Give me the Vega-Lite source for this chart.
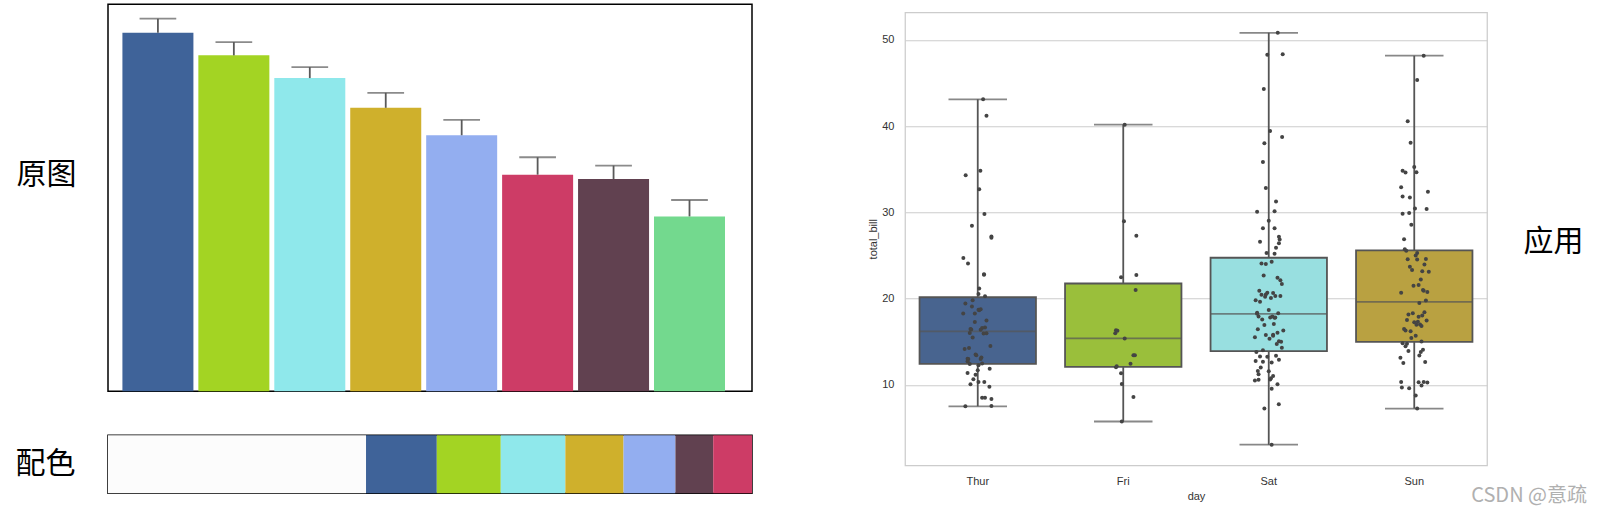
{
 "$schema": "https://vega.github.io/schema/vega-lite/v6.json",
 "background": "white",
 "padding": {"left": 14, "top": 3.25, "right": 0, "bottom": 0},
 "config": {"font": "Liberation Sans"},
 "datasets": {
  "bars": [
   {"k":"b1","v":92.66,"e":96.28},{"k":"b2","v":86.79,"e":90.23},{"k":"b3","v":80.92,"e":83.76},{"k":"b4","v":73.24,"e":77.11},
   {"k":"b5","v":66.15,"e":70.13},{"k":"b6","v":55.96,"e":60.46},{"k":"b7","v":54.85,"e":58.31},{"k":"b8","v":45.18,"e":49.42}
  ],
  "pal": [
   {"k":"bg","s":0,"e":258.1,"lab":"配色"},{"k":"p1","s":258.1,"e":328.9,"lab":"配色"},{"k":"p2","s":328.9,"e":392.9,"lab":"配色"},
   {"k":"p3","s":392.9,"e":457.5,"lab":"配色"},{"k":"p4","s":457.5,"e":515.7,"lab":"配色"},{"k":"p5","s":515.7,"e":567.6,"lab":"配色"},
   {"k":"p6","s":567.6,"e":605.4,"lab":"配色"},{"k":"p7","s":605.4,"e":644.2,"lab":"配色"}
  ],
  "box": [
   {"day":"Thur","lo":7.51,"q1":12.4425,"med":16.2,"q3":20.155,"hi":43.11},
   {"day":"Fri","lo":5.75,"q1":12.095,"med":15.38,"q3":21.75,"hi":40.17},
   {"day":"Sat","lo":3.07,"q1":13.905,"med":18.24,"q3":24.74,"hi":50.81},
   {"day":"Sun","lo":7.25,"q1":14.9875,"med":19.63,"q3":25.5975,"hi":48.17}
  ],
  "pts": [
   {"d":"Thur","b":27.20,"j":0.094},{"d":"Thur","b":22.76,"j":0.043},{"d":"Thur","b":17.29,"j":-0.02},{"d":"Thur","b":19.44,"j":-0.085},
   {"d":"Thur","b":16.66,"j":0.05},{"d":"Thur","b":10.07,"j":-0.05},{"d":"Thur","b":32.68,"j":0.01},{"d":"Thur","b":15.98,"j":0.06},
   {"d":"Thur","b":34.83,"j":0.018},{"d":"Thur","b":13.03,"j":-0.07},{"d":"Thur","b":18.28,"j":-0.1},{"d":"Thur","b":24.71,"j":-0.099},
   {"d":"Thur","b":21.16,"j":0.01},{"d":"Thur","b":10.65,"j":-0.03},{"d":"Thur","b":12.43,"j":-0.055},{"d":"Thur","b":24.08,"j":-0.067},
   {"d":"Thur","b":11.69,"j":0.0},{"d":"Thur","b":13.42,"j":-0.01},{"d":"Thur","b":14.26,"j":-0.06},{"d":"Thur","b":15.95,"j":0.04},
   {"d":"Thur","b":12.48,"j":0.03},{"d":"Thur","b":29.80,"j":0.046},{"d":"Thur","b":8.52,"j":0.03},{"d":"Thur","b":14.52,"j":0.087},
   {"d":"Thur","b":11.38,"j":-0.07},{"d":"Thur","b":22.82,"j":0.043},{"d":"Thur","b":19.08,"j":-0.04},{"d":"Thur","b":20.27,"j":0.05},
   {"d":"Thur","b":11.17,"j":-0.015},{"d":"Thur","b":12.26,"j":0.005},{"d":"Thur","b":18.26,"j":-0.02},{"d":"Thur","b":8.51,"j":0.05},
   {"d":"Thur","b":10.33,"j":0.005},{"d":"Thur","b":14.15,"j":-0.09},{"d":"Thur","b":16.00,"j":-0.055},{"d":"Thur","b":13.16,"j":0.025},
   {"d":"Thur","b":17.47,"j":0.06},{"d":"Thur","b":34.30,"j":-0.083},{"d":"Thur","b":41.19,"j":0.06},{"d":"Thur","b":27.05,"j":0.094},
   {"d":"Thur","b":16.43,"j":-0.045},{"d":"Thur","b":8.35,"j":0.094},{"d":"Thur","b":18.64,"j":0.01},{"d":"Thur","b":11.87,"j":0.082},
   {"d":"Thur","b":9.78,"j":0.08},{"d":"Thur","b":7.51,"j":-0.085},{"d":"Thur","b":19.81,"j":-0.035},{"d":"Thur","b":28.44,"j":-0.04},
   {"d":"Thur","b":15.48,"j":-0.035},{"d":"Thur","b":16.58,"j":0.03},{"d":"Thur","b":7.56,"j":0.094},{"d":"Thur","b":10.34,"j":0.045},
   {"d":"Thur","b":43.11,"j":0.037},{"d":"Thur","b":13.00,"j":-0.065},{"d":"Thur","b":13.51,"j":-0.015},{"d":"Thur","b":18.71,"j":0.005},
   {"d":"Thur","b":12.74,"j":-0.07},{"d":"Thur","b":13.00,"j":0.02},{"d":"Thur","b":16.40,"j":0.02},{"d":"Thur","b":20.53,"j":0.005},
   {"d":"Thur","b":16.47,"j":-0.05},{"d":"Thur","b":18.78,"j":0.02},
   {"d":"Fri","b":28.97,"j":0.005},{"d":"Fri","b":22.49,"j":-0.015},{"d":"Fri","b":5.75,"j":-0.01},{"d":"Fri","b":16.32,"j":-0.05},
   {"d":"Fri","b":22.75,"j":0.09},{"d":"Fri","b":40.17,"j":0.01},{"d":"Fri","b":27.28,"j":0.09},{"d":"Fri","b":12.03,"j":-0.05},
   {"d":"Fri","b":21.01,"j":0.085},{"d":"Fri","b":12.46,"j":0.05},{"d":"Fri","b":11.35,"j":-0.015},{"d":"Fri","b":15.38,"j":0.01},
   {"d":"Fri","b":12.16,"j":-0.045},{"d":"Fri","b":13.42,"j":0.07},{"d":"Fri","b":8.58,"j":0.07},{"d":"Fri","b":15.98,"j":-0.055},
   {"d":"Fri","b":13.42,"j":0.08},{"d":"Fri","b":16.27,"j":-0.04},{"d":"Fri","b":10.09,"j":-0.01},
   {"d":"Sat","b":20.65,"j":0.03},{"d":"Sat","b":17.92,"j":-0.07},{"d":"Sat","b":20.29,"j":0.08},{"d":"Sat","b":15.77,"j":-0.02},
   {"d":"Sat","b":39.42,"j":0.009},{"d":"Sat","b":19.82,"j":-0.09},{"d":"Sat","b":17.81,"j":0.01},{"d":"Sat","b":13.37,"j":0.05},
   {"d":"Sat","b":12.69,"j":-0.04},{"d":"Sat","b":21.70,"j":0.09},{"d":"Sat","b":19.65,"j":-0.06},{"d":"Sat","b":9.55,"j":0.02},
   {"d":"Sat","b":18.35,"j":-0.08},{"d":"Sat","b":15.06,"j":0.07},{"d":"Sat","b":20.69,"j":-0.01},{"d":"Sat","b":17.78,"j":0.04},
   {"d":"Sat","b":24.06,"j":-0.05},{"d":"Sat","b":16.31,"j":0.1},{"d":"Sat","b":16.93,"j":-0.03},{"d":"Sat","b":18.69,"j":0.0},
   {"d":"Sat","b":31.27,"j":0.05},{"d":"Sat","b":16.04,"j":0.06},{"d":"Sat","b":38.01,"j":-0.03},{"d":"Sat","b":26.41,"j":0.07},
   {"d":"Sat","b":11.24,"j":-0.07},{"d":"Sat","b":48.27,"j":-0.01},{"d":"Sat","b":20.29,"j":0.045},{"d":"Sat","b":13.81,"j":-0.085},
   {"d":"Sat","b":11.02,"j":0.03},{"d":"Sat","b":18.29,"j":0.065},{"d":"Sat","b":17.59,"j":-0.045},{"d":"Sat","b":20.08,"j":0.015},
   {"d":"Sat","b":16.45,"j":-0.075},{"d":"Sat","b":3.07,"j":0.02},{"d":"Sat","b":20.23,"j":-0.025},{"d":"Sat","b":15.01,"j":0.085},
   {"d":"Sat","b":12.02,"j":-0.055},{"d":"Sat","b":17.07,"j":0.035},{"d":"Sat","b":26.86,"j":0.075},{"d":"Sat","b":25.28,"j":-0.015},
   {"d":"Sat","b":14.73,"j":0.055},{"d":"Sat","b":10.51,"j":-0.095},{"d":"Sat","b":17.92,"j":0.025},{"d":"Sat","b":44.30,"j":-0.034},
   {"d":"Sat","b":22.42,"j":0.06},{"d":"Sat","b":20.92,"j":-0.065},{"d":"Sat","b":15.36,"j":0.005},{"d":"Sat","b":20.49,"j":-0.02},
   {"d":"Sat","b":25.21,"j":0.04},{"d":"Sat","b":18.24,"j":-0.08},{"d":"Sat","b":14.31,"j":0.09},{"d":"Sat","b":14.00,"j":-0.04},
   {"d":"Sat","b":7.25,"j":-0.03},{"d":"Sat","b":10.59,"j":-0.07},{"d":"Sat","b":10.63,"j":0.01},{"d":"Sat","b":50.81,"j":0.062},
   {"d":"Sat","b":15.81,"j":0.03},{"d":"Sat","b":26.59,"j":-0.06},{"d":"Sat","b":38.73,"j":0.092},{"d":"Sat","b":24.27,"j":0.02},
   {"d":"Sat","b":12.76,"j":-0.09},{"d":"Sat","b":30.06,"j":-0.08},{"d":"Sat","b":25.89,"j":0.05},{"d":"Sat","b":48.33,"j":0.096},
   {"d":"Sat","b":13.27,"j":-0.01},{"d":"Sat","b":28.17,"j":0.04},{"d":"Sat","b":12.90,"j":0.07},{"d":"Sat","b":28.15,"j":-0.04},
   {"d":"Sat","b":11.59,"j":0.0},{"d":"Sat","b":7.74,"j":0.069},{"d":"Sat","b":30.14,"j":0.04},{"d":"Sat","b":20.45,"j":-0.05},
   {"d":"Sat","b":13.28,"j":-0.06},{"d":"Sat","b":22.12,"j":0.08},{"d":"Sat","b":24.01,"j":-0.02},{"d":"Sat","b":15.69,"j":0.03},
   {"d":"Sat","b":11.61,"j":-0.075},{"d":"Sat","b":10.77,"j":0.015},{"d":"Sat","b":15.53,"j":-0.095},{"d":"Sat","b":10.07,"j":0.06},
   {"d":"Sat","b":12.60,"j":0.02},{"d":"Sat","b":32.83,"j":-0.02},{"d":"Sat","b":35.83,"j":-0.04},{"d":"Sat","b":29.03,"j":0.0},
   {"d":"Sat","b":27.18,"j":0.07},{"d":"Sat","b":22.67,"j":-0.035},{"d":"Sat","b":17.82,"j":0.045},
   {"d":"Sun","b":16.99,"j":0.04},{"d":"Sun","b":10.34,"j":-0.09},{"d":"Sun","b":21.01,"j":0.06},{"d":"Sun","b":23.68,"j":-0.03},
   {"d":"Sun","b":24.59,"j":0.08},{"d":"Sun","b":25.29,"j":0.02},{"d":"Sun","b":8.77,"j":0.01},{"d":"Sun","b":26.88,"j":-0.07},
   {"d":"Sun","b":15.04,"j":0.05},{"d":"Sun","b":14.78,"j":-0.05},{"d":"Sun","b":10.27,"j":0.09},{"d":"Sun","b":35.26,"j":0.0},
   {"d":"Sun","b":15.42,"j":-0.02},{"d":"Sun","b":18.43,"j":0.07},{"d":"Sun","b":14.83,"j":-0.08},{"d":"Sun","b":21.58,"j":0.03},
   {"d":"Sun","b":10.33,"j":0.065},{"d":"Sun","b":16.29,"j":-0.06},{"d":"Sun","b":16.97,"j":0.015},{"d":"Sun","b":17.46,"j":0.085},
   {"d":"Sun","b":13.94,"j":-0.04},{"d":"Sun","b":9.68,"j":-0.085},{"d":"Sun","b":30.40,"j":0.085},{"d":"Sun","b":18.29,"j":-0.01},
   {"d":"Sun","b":22.23,"j":0.045},{"d":"Sun","b":32.40,"j":0.094},{"d":"Sun","b":28.55,"j":-0.02},{"d":"Sun","b":18.04,"j":0.055},
   {"d":"Sun","b":12.54,"j":-0.075},{"d":"Sun","b":10.29,"j":0.03},{"d":"Sun","b":34.81,"j":-0.08},{"d":"Sun","b":9.94,"j":0.05},
   {"d":"Sun","b":25.56,"j":-0.055},{"d":"Sun","b":19.49,"j":0.035},{"d":"Sun","b":38.07,"j":-0.025},{"d":"Sun","b":23.95,"j":0.07},
   {"d":"Sun","b":25.71,"j":-0.065},{"d":"Sun","b":17.31,"j":0.025},{"d":"Sun","b":29.93,"j":-0.035},{"d":"Sun","b":14.07,"j":0.06},
   {"d":"Sun","b":13.13,"j":-0.095},{"d":"Sun","b":17.26,"j":0.0},{"d":"Sun","b":24.55,"j":-0.045},{"d":"Sun","b":19.77,"j":0.08},
   {"d":"Sun","b":29.85,"j":-0.08},{"d":"Sun","b":48.17,"j":0.065},{"d":"Sun","b":25.00,"j":0.01},{"d":"Sun","b":13.39,"j":0.035},
   {"d":"Sun","b":16.49,"j":-0.07},{"d":"Sun","b":21.50,"j":-0.005},{"d":"Sun","b":12.66,"j":0.075},{"d":"Sun","b":16.21,"j":-0.025},
   {"d":"Sun","b":13.81,"j":0.045},{"d":"Sun","b":17.51,"j":-0.05},{"d":"Sun","b":24.52,"j":0.02},{"d":"Sun","b":20.76,"j":0.09},
   {"d":"Sun","b":31.71,"j":-0.03},{"d":"Sun","b":7.25,"j":0.02},{"d":"Sun","b":31.85,"j":-0.08},{"d":"Sun","b":16.82,"j":0.05},
   {"d":"Sun","b":32.90,"j":-0.09},{"d":"Sun","b":17.89,"j":0.03},{"d":"Sun","b":14.48,"j":-0.06},{"d":"Sun","b":9.60,"j":-0.035},
   {"d":"Sun","b":34.63,"j":-0.06},{"d":"Sun","b":34.65,"j":0.015},{"d":"Sun","b":23.33,"j":-0.015},{"d":"Sun","b":45.35,"j":0.02},
   {"d":"Sun","b":23.17,"j":0.055},{"d":"Sun","b":40.55,"j":-0.045},{"d":"Sun","b":20.69,"j":-0.09},{"d":"Sun","b":20.90,"j":0.065},
   {"d":"Sun","b":30.46,"j":0.005},{"d":"Sun","b":18.15,"j":-0.04},{"d":"Sun","b":23.10,"j":0.1},{"d":"Sun","b":15.69,"j":0.01}
  ]
 },
 "spacing": 114,
 "resolve": {"scale": {"color": "independent"}},
 "hconcat": [
  {
   "spacing": 42,
   "resolve": {"scale": {"color": "independent"}},
   "vconcat": [
    {
     "width": 644,
     "height": 387,
     "data": {"name": "bars"},
     "view": {"stroke": "#000000", "strokeWidth": 1.5},
     "encoding": {
      "x": {"field": "k", "type": "nominal", "sort": null, "axis": null,
            "scale": {"type": "band", "paddingInner": 0.065, "paddingOuter": 0.2726, "align": 0.348}}
     },
     "layer": [
      {
       "mark": {"type": "bar", "width": 71},
       "encoding": {
        "y": {"field": "v", "type": "quantitative", "scale": {"domain": [0, 100], "nice": false},
              "axis": {"title": "原图", "titleAngle": 0, "titleAlign": "right", "titleBaseline": "middle",
                       "titleFont": "Noto Sans CJK SC", "titleFontSize": 30, "titleFontWeight": "normal",
                       "titleColor": "#000000", "titlePadding": 32, "titleY": 170,
                       "labels": false, "ticks": false, "domain": false, "grid": false}},
        "color": {"field": "k", "type": "nominal", "legend": null,
                  "scale": {"domain": ["b1","b2","b3","b4","b5","b6","b7","b8"],
                            "range": ["#3f6399","#a3d423","#8fe8eb","#cfb02c","#93aef0","#cd3c66","#614150","#73d98e"]}}
       }
      },
      {
       "mark": {"type": "rule", "color": "#5a5a5a", "strokeWidth": 1.8},
       "encoding": {
        "y": {"field": "v", "type": "quantitative", "scale": {"domain": [0, 100], "nice": false}},
        "y2": {"field": "e"}
       }
      },
      {
       "mark": {"type": "tick", "color": "#5a5a5a", "thickness": 1.8, "size": 36.7},
       "encoding": {
        "y": {"field": "e", "type": "quantitative", "scale": {"domain": [0, 100], "nice": false}}
       }
      }
     ]
    },
    {
     "width": 644,
     "height": 58,
     "data": {"name": "pal"},
     "view": {"stroke": "#000000", "strokeWidth": 1.5},
     "mark": {"type": "bar"},
     "encoding": {
      "x": {"field": "s", "type": "quantitative", "axis": null,
            "scale": {"domain": [0, 644.2], "nice": false, "zero": false}},
      "x2": {"field": "e"},
      "y": {"field": "lab", "type": "nominal", "scale": {"paddingInner": 0, "paddingOuter": 0},
            "axis": {"title": null, "ticks": false, "domain": false, "grid": false, "labelAngle": 0,
                     "labelFont": "Noto Sans CJK SC", "labelFontSize": 30, "labelColor": "#000000",
                     "labelPadding": 33}},
      "color": {"field": "k", "type": "nominal", "legend": null,
                "scale": {"domain": ["bg","p1","p2","p3","p4","p5","p6","p7"],
                          "range": ["#fcfcfc","#3f6399","#a3d423","#8fe8eb","#cfb02c","#93aef0","#614150","#cd3c66"]}}
     }
    }
   ]
  },
  {
   "spacing": 6,
   "resolve": {"scale": {"color": "independent"}},
   "vconcat": [
    {
     "width": 582,
     "height": 1,
     "data": {"values": []},
     "view": {"stroke": null, "fill": "white"},
     "mark": {"type": "point"},
     "encoding": {}
    },
    {
     "width": 582,
     "height": 453,
     "view": {"stroke": "#cccccc", "strokeWidth": 1.25},
     "title": {"text": "CSDN @意疏", "orient": "bottom", "anchor": "end", "frame": "bounds",
               "font": "Noto Sans CJK SC", "fontSize": 20, "fontWeight": "normal", "color": "#b0b0b0",
               "offset": 0, "dx": 4, "dy": -15},
     "resolve": {"axis": {"x": "independent", "y": "independent"}},
     "layer": [
      {
       "data": {"name": "box"},
       "encoding": {
        "x": {"field": "day", "type": "nominal", "title": "day",
              "scale": {"domain": ["Thur","Fri","Sat","Sun"], "paddingInner": 0, "paddingOuter": 0},
              "axis": {"labelAngle": 0, "ticks": false, "domain": false, "grid": false,
                       "labelFontSize": 11, "labelColor": "#333333", "labelPadding": 10,
                       "titleFontSize": 11, "titleFontWeight": "normal", "titleColor": "#333333", "titlePadding": 4}}
       },
       "layer": [
        {
         "mark": {"type": "rule", "color": "#555555", "strokeWidth": 1.8},
         "encoding": {
          "y": {"field": "lo", "type": "quantitative", "title": "total_bill",
                "scale": {"domain": [0.68, 53.2], "nice": false, "zero": false},
                "axis": {"values": [10, 20, 30, 40, 50], "ticks": false, "domain": false, "grid": true,
                         "gridColor": "#cccccc", "gridWidth": 1,
                         "labelFontSize": 11, "labelColor": "#333333", "labelPadding": 11,
                         "titleFontSize": 11, "titleFontWeight": "normal", "titleColor": "#333333", "titlePadding": 3}},
          "y2": {"field": "hi"}
         }
        },
        {
         "mark": {"type": "bar", "width": 116.4, "stroke": "#555555", "strokeWidth": 1.8},
         "encoding": {
          "y": {"field": "q1", "type": "quantitative", "scale": {"domain": [0.68, 53.2], "nice": false, "zero": false}},
          "y2": {"field": "q3"},
          "color": {"field": "day", "type": "nominal", "legend": null,
                    "scale": {"domain": ["Thur","Fri","Sat","Sun"], "range": ["#48648f","#9abf3b","#98dfe0","#b9a141"]}}
         }
        },
        {
         "mark": {"type": "tick", "color": "#555555", "thickness": 1.8, "size": 116.4},
         "encoding": {"y": {"field": "med", "type": "quantitative", "scale": {"domain": [0.68, 53.2], "nice": false, "zero": false}}}
        },
        {
         "mark": {"type": "tick", "color": "#555555", "thickness": 1.8, "size": 58.5},
         "encoding": {"y": {"field": "lo", "type": "quantitative", "scale": {"domain": [0.68, 53.2], "nice": false, "zero": false}}}
        },
        {
         "mark": {"type": "tick", "color": "#555555", "thickness": 1.8, "size": 58.5},
         "encoding": {"y": {"field": "hi", "type": "quantitative", "scale": {"domain": [0.68, 53.2], "nice": false, "zero": false}}}
        }
       ]
      },
      {
       "data": {"name": "pts"},
       "mark": {"type": "circle", "size": 16, "color": "#444444", "opacity": 1},
       "encoding": {
        "x": {"field": "d", "type": "nominal",
              "scale": {"domain": ["Thur","Fri","Sat","Sun"], "paddingInner": 0, "paddingOuter": 0},
              "axis": null},
        "xOffset": {"field": "j", "type": "quantitative", "scale": {"domain": [-0.5, 0.5]}},
        "y": {"field": "b", "type": "quantitative",
              "scale": {"domain": [0.68, 53.2], "nice": false, "zero": false},
              "axis": {"orient": "right", "title": "应用", "titleAngle": 0, "titleAlign": "left", "titleBaseline": "middle",
                       "titleFont": "Noto Sans CJK SC", "titleFontSize": 30, "titleFontWeight": "normal",
                       "titleColor": "#000000", "titlePadding": 36, "titleY": 229,
                       "labels": false, "ticks": false, "domain": false, "grid": false}}
       }
      }
     ]
    }
   ]
  }
 ]
}
